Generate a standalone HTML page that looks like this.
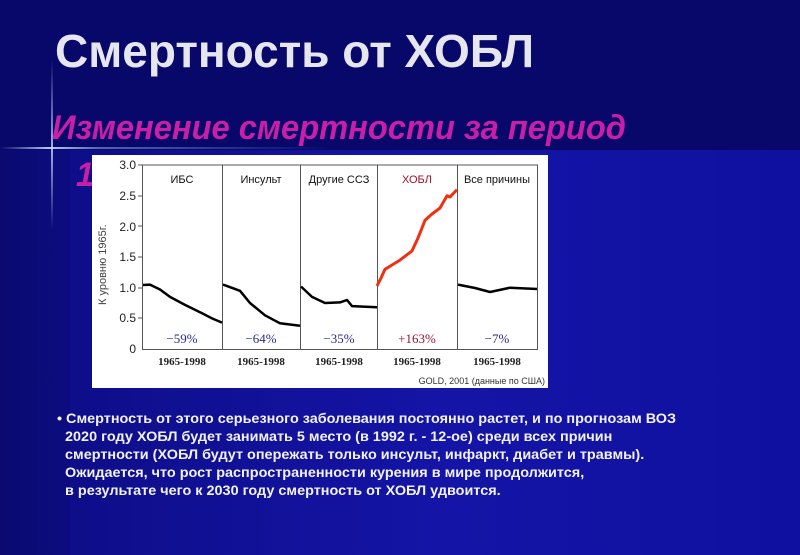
<!DOCTYPE html>
<html><head><meta charset="utf-8"><style>
body{margin:0;width:800px;height:555px;overflow:hidden;font-family:"Liberation Sans",sans-serif;}
#bg{position:absolute;left:0;top:0;width:800px;height:555px;background:#08086a;}
#low{position:absolute;left:70px;top:150px;width:730px;height:405px;background:linear-gradient(90deg,#0e0e8a,#1414a6 50%,#1010a0);}
#lowl{position:absolute;left:0;top:150px;width:70px;height:405px;background:linear-gradient(90deg,#0a0a70,#0c0c80);}
.t{position:absolute;white-space:nowrap;transform-origin:0 0;z-index:1;}
svg{z-index:2;}
</style></head><body>
<div id="bg"></div><div id="lowl"></div><div id="low"></div>
<div style="position:absolute;left:0;top:147px;width:330px;height:2px;background:linear-gradient(90deg,rgba(120,160,255,0),rgba(200,220,255,.9) 15%,rgba(160,190,255,.5) 30%,rgba(120,160,255,0));"></div>
<div style="position:absolute;left:51px;top:60px;width:2px;height:170px;background:linear-gradient(180deg,rgba(100,140,255,0),rgba(200,220,255,.8) 52%,rgba(100,140,255,0));"></div>
<div class="t" style="left:55px;top:24px;font-size:46px;font-weight:bold;color:#e6e6ee;">Смертность от ХОБЛ</div>
<div class="t" style="left:52px;top:109px;font-size:34px;font-weight:bold;font-style:italic;color:#c81ea8;transform:scaleX(0.96)">Изменение смертности за период</div>
<div class="t" style="left:76px;top:156px;font-size:34px;font-weight:bold;font-style:italic;color:#c81ea8;transform:scaleX(0.96)">1965-1998</div>
<svg style="position:absolute;left:0;top:0" width="800" height="555">
<rect x="92" y="155" width="456" height="233" fill="#fff"/>
<g stroke="#555" stroke-width="1" fill="none">
<path d="M142.5 165V349.5H537.5V165H142.5"/>
<path d="M222.5 165V349M300.5 165V349M377.5 165V349M457.5 165V349"/>
<path d="M138 165h5M138 196h5M138 226h5M138 257h5M138 288h5M138 318h5"/>
</g>
<g font-family="Liberation Sans,sans-serif" font-size="12" fill="#222" text-anchor="end">
<text x="136" y="169">3.0</text><text x="136" y="200">2.5</text><text x="136" y="231">2.0</text>
<text x="136" y="261">1.5</text><text x="136" y="292">1.0</text><text x="136" y="322">0.5</text><text x="136" y="353">0</text>
</g>
<text transform="translate(106,305) rotate(-90)" font-size="11" fill="#444" font-family="Liberation Sans,sans-serif">К уровню 1965г.</text>
<g font-family="Liberation Sans,sans-serif" font-size="11" text-anchor="middle" fill="#111">
<text x="182" y="183">ИБС</text><text x="261" y="183">Инсульт</text><text x="339" y="183">Другие ССЗ</text>
<text x="417" y="183" fill="#a01030">ХОБЛ</text><text x="497" y="183">Все причины</text>
</g>
<g font-family="Liberation Serif,serif" font-size="13" text-anchor="middle" fill="#2a2a90">
<text x="182" y="343">−59%</text><text x="261" y="343">−64%</text><text x="339" y="343">−35%</text>
<text x="417" y="343" fill="#a01030">+163%</text><text x="497" y="343">−7%</text>
</g>
<g font-family="Liberation Serif,serif" font-size="11" font-weight="bold" text-anchor="middle" fill="#222">
<text x="182" y="365">1965-1998</text><text x="261" y="365">1965-1998</text><text x="339" y="365">1965-1998</text>
<text x="417" y="365">1965-1998</text><text x="497" y="365">1965-1998</text>
</g>
<text x="545" y="384" text-anchor="end" font-size="9" fill="#333" font-family="Liberation Sans,sans-serif">GOLD, 2001 (данные по США)</text>
<g fill="none" stroke="#000" stroke-width="2.5" stroke-linejoin="round">
<polyline points="143,285 150,284.6 160,289.5 170,296.9 185,304.9 200,312.2 212,318.4 222,322.6"/>
<polyline points="223,284.6 240,290.8 250,303 265,315.3 280,323.3 300,325.7"/>
<polyline points="301,286.5 312,296.9 325,303 340,302.4 347,300 352,306.1 377,307.3"/>
<polyline points="458,284.6 475,288 490,292 510,287.7 537,289"/>
</g>
<polyline points="377,286 381,278 385,269.3 392,265 400,260.1 412,250.9 418,238 425,220.3 432,214 440,208 447,195.8 450,197 457,189.6" fill="none" stroke="#f03010" stroke-width="3" stroke-linejoin="round"/>
</svg>
<div class="t" style="left:57px;top:409px;font-size:14px;line-height:18px;font-weight:bold;color:#f2f2f6;transform:scaleX(1.03)">• Смертность от этого серьезного заболевания постоянно растет, и по прогнозам ВОЗ<br>&nbsp; 2020 году ХОБЛ будет занимать 5 место (в 1992 г. - 12-ое) среди всех причин<br>&nbsp; смертности (ХОБЛ будут опережать только инсульт, инфаркт, диабет и травмы).<br>&nbsp; Ожидается, что рост распространенности курения в мире продолжится,<br>&nbsp; в результате чего к 2030 году смертность от ХОБЛ удвоится.</div>
</body></html>
